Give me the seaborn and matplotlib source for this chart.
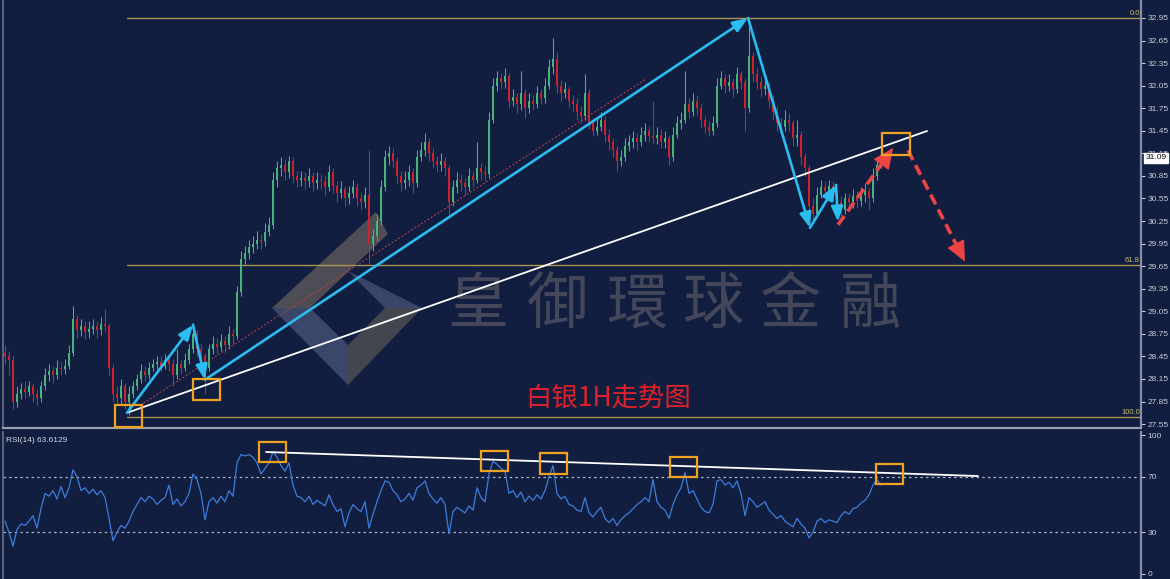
import numpy as np
import pandas as pd
import matplotlib
matplotlib.use("Agg")
import matplotlib.pyplot as plt
import seaborn as sns
from matplotlib.patches import Rectangle, Polygon

# ---------------- data ----------------
close = [28.45, 28.40, 27.85, 27.95, 28.02, 27.98, 28.05, 27.95, 27.90, 28.05,
         28.20, 28.25, 28.20, 28.30, 28.28, 28.32, 28.50, 28.95, 28.80, 28.85,
         28.78, 28.82, 28.85, 28.80, 28.88, 28.85, 28.30, 27.95, 27.90, 28.05,
         27.85, 27.95, 28.05, 28.15, 28.25, 28.20, 28.30, 28.35, 28.38, 28.32,
         28.40, 28.35, 28.20, 28.35, 28.30, 28.40, 28.55, 28.75, 28.55, 28.45,
         28.30, 28.55, 28.62, 28.58, 28.65, 28.60, 28.75, 28.72, 29.30, 29.75,
         29.82, 29.90, 29.95, 30.00, 29.98, 30.10, 30.20, 30.80, 30.95, 31.00,
         30.90, 31.05, 30.85, 30.80, 30.82, 30.78, 30.85, 30.75, 30.80, 30.78,
         30.70, 30.90, 30.72, 30.62, 30.68, 30.55, 30.62, 30.70, 30.55, 30.50,
         30.60, 29.95, 30.05, 30.25, 30.70, 31.10, 31.15, 31.05, 30.85, 30.75,
         30.80, 30.90, 30.75, 31.10, 31.20, 31.30, 31.15, 31.05, 31.00, 31.05,
         30.95, 30.50, 30.70, 30.80, 30.75, 30.70, 30.85, 30.80, 30.95, 30.90,
         30.88, 31.60, 32.05, 32.15, 32.10, 32.18, 31.85, 31.90, 31.80, 31.95,
         31.75, 31.85, 31.80, 31.95, 31.88, 32.05, 32.30, 32.40, 32.05, 31.95,
         32.00, 31.85, 31.80, 31.70, 31.65, 31.95, 31.55, 31.45, 31.50, 31.60,
         31.40, 31.30, 31.20, 31.05, 31.10, 31.25, 31.30, 31.35, 31.30, 31.40,
         31.45, 31.38, 31.35, 31.40, 31.30, 31.35, 31.10, 31.40, 31.55, 31.60,
         31.80, 31.70, 31.85, 31.75, 31.60, 31.50, 31.45, 31.55, 32.05, 32.15,
         32.05, 32.10, 32.00, 32.20, 32.10, 31.75, 32.45, 32.20, 32.10, 32.00,
         32.05, 31.85, 31.70, 31.55, 31.50, 31.60, 31.55, 31.35, 31.40, 31.10,
         30.95, 30.45, 30.35, 30.60, 30.70, 30.65, 30.72, 30.60, 30.50, 30.40,
         30.55, 30.50, 30.58, 30.52, 30.60, 30.65, 30.55, 30.85, 31.00, 31.09]

high = [28.60, 28.52, 28.45, 28.05, 28.10, 28.12, 28.12, 28.10, 28.02, 28.12,
        28.30, 28.35, 28.32, 28.40, 28.38, 28.42, 28.60, 29.12, 29.00, 28.95,
        28.92, 28.92, 28.95, 28.92, 28.98, 29.08, 28.90, 28.35, 28.05, 28.15,
        28.10, 28.05, 28.12, 28.22, 28.35, 28.32, 28.38, 28.42, 28.45, 28.45,
        28.48, 28.45, 28.42, 28.55, 28.40, 28.50, 28.62, 28.90, 28.80, 28.62,
        28.50, 28.62, 28.72, 28.70, 28.75, 28.72, 28.85, 28.82, 29.38, 29.85,
        29.92, 30.00, 30.05, 30.12, 30.08, 30.22, 30.30, 30.90, 31.05, 31.10,
        31.08, 31.12, 31.10, 30.92, 30.92, 30.90, 30.95, 30.90, 30.90, 30.88,
        30.85, 31.00, 30.95, 30.78, 30.78, 30.72, 30.72, 30.80, 30.75, 30.62,
        30.70, 31.20, 30.15, 30.35, 30.80, 31.20, 31.25, 31.22, 31.10, 30.92,
        30.92, 31.00, 30.95, 31.20, 31.30, 31.42, 31.35, 31.22, 31.12, 31.15,
        31.10, 31.00, 30.80, 30.90, 30.88, 30.82, 30.95, 30.92, 31.30, 31.02,
        30.98, 31.70, 32.15, 32.25, 32.22, 32.28, 32.22, 32.00, 31.95, 32.25,
        32.00, 31.95, 31.92, 32.05, 32.00, 32.15, 32.40, 32.68, 32.50, 32.12,
        32.10, 32.05, 31.92, 31.88, 31.78, 32.20, 32.00, 31.62, 31.62, 31.70,
        31.65, 31.48, 31.35, 31.25, 31.20, 31.35, 31.40, 31.45, 31.42, 31.50,
        31.55, 31.52, 31.85, 31.50, 31.48, 31.45, 31.40, 31.50, 31.65, 31.70,
        32.25, 31.88, 31.95, 31.92, 31.80, 31.65, 31.58, 31.65, 32.15, 32.25,
        32.20, 32.20, 32.15, 32.30, 32.25, 32.15, 32.95, 32.50, 32.28, 32.18,
        32.15, 32.10, 31.92, 31.78, 31.62, 31.72, 31.68, 31.60, 31.60, 31.45,
        31.15, 31.00, 30.55, 30.70, 30.80, 30.78, 30.80, 30.78, 30.65, 30.58,
        30.62, 30.62, 30.68, 30.65, 30.70, 30.75, 30.70, 30.95, 31.10, 31.18]

low = [28.35, 28.20, 27.75, 27.78, 27.88, 27.90, 27.92, 27.85, 27.80, 27.85,
       28.00, 28.12, 28.10, 28.15, 28.20, 28.22, 28.28, 28.45, 28.70, 28.72,
       28.68, 28.70, 28.75, 28.70, 28.74, 28.78, 28.20, 27.85, 27.80, 27.82,
       27.75, 27.67, 27.90, 28.00, 28.10, 28.12, 28.15, 28.25, 28.28, 28.25,
       28.28, 28.25, 28.05, 28.15, 28.22, 28.25, 28.35, 28.50, 28.45, 28.35,
       27.95, 28.25, 28.48, 28.50, 28.52, 28.50, 28.55, 28.62, 28.68, 29.25,
       29.68, 29.75, 29.82, 29.88, 29.88, 29.92, 30.05, 30.15, 30.70, 30.85,
       30.80, 30.82, 30.75, 30.70, 30.72, 30.68, 30.70, 30.65, 30.68, 30.68,
       30.60, 30.65, 30.62, 30.50, 30.55, 30.45, 30.48, 30.55, 30.45, 30.40,
       30.42, 29.68, 29.85, 29.98, 30.20, 30.65, 31.00, 30.95, 30.75, 30.65,
       30.68, 30.72, 30.62, 30.70, 31.05, 31.12, 31.05, 30.95, 30.90, 30.92,
       30.85, 30.35, 30.45, 30.62, 30.65, 30.60, 30.65, 30.70, 30.75, 30.80,
       30.78, 30.82, 31.55, 31.98, 32.00, 32.02, 31.75, 31.78, 31.68, 31.72,
       31.62, 31.68, 31.72, 31.75, 31.80, 31.82, 32.00, 32.20, 31.95, 31.85,
       31.88, 31.75, 31.70, 31.60, 31.55, 31.60, 31.48, 31.38, 31.40, 31.45,
       31.30, 31.20, 31.10, 30.92, 30.98, 31.05, 31.18, 31.22, 31.20, 31.25,
       31.32, 31.30, 31.28, 31.28, 31.22, 31.22, 31.00, 31.05, 31.35, 31.48,
       31.55, 31.62, 31.65, 31.65, 31.50, 31.42, 31.38, 31.40, 31.50, 32.00,
       31.95, 31.98, 31.90, 31.95, 32.00, 31.45, 31.70, 32.10, 32.00, 31.90,
       31.92, 31.75, 31.60, 31.45, 31.40, 31.45, 31.45, 31.25, 31.25, 31.00,
       30.85, 30.22, 30.25, 30.30, 30.55, 30.55, 30.58, 30.50, 30.30, 30.32,
       30.35, 30.40, 30.42, 30.42, 30.45, 30.50, 30.40, 30.50, 30.80, 30.95]

first_open = 28.50

rsi = [38, 30, 20, 32, 36, 35, 38, 42, 33, 47,
       58, 56, 60, 54, 63, 55, 62, 75, 70, 60,
       62, 58, 61, 57, 60, 55, 40, 24, 30, 35,
       33, 38, 45, 50, 55, 52, 56, 54, 50, 53,
       55, 64, 50, 54, 49, 52, 58, 72, 68, 58,
       39, 52, 55, 51, 56, 52, 60, 56, 80, 86,
       85, 86, 84, 80, 72, 76, 80, 88, 84, 78,
       74, 80, 64, 56, 55, 52, 56, 50, 53, 51,
       49, 57, 50, 45, 47, 34, 44, 50, 47, 45,
       52, 33, 43, 52, 60, 67, 66, 60, 57, 52,
       54, 58, 53, 62, 64, 67, 58, 54, 51, 55,
       50, 29, 45, 48, 46, 44, 49, 46, 62, 55,
       52, 72, 81, 79, 76, 74, 58, 60, 55, 59,
       52, 56, 53, 57, 54, 60, 70, 78, 58, 54,
       56, 50, 49, 46, 45, 55, 44, 41, 45, 48,
       40, 37, 40, 35, 39, 42, 44, 47, 50, 52,
       55, 52, 68, 52, 48, 46, 40, 50, 57, 62,
       73, 58, 60, 54, 48, 45, 44, 50, 67, 68,
       64, 66, 62, 67, 58, 42, 55, 52, 48, 50,
       52, 46, 43, 40, 42, 38, 36, 34, 40, 36,
       33, 26, 30, 38, 40, 37, 39, 38, 37, 42,
       45, 43, 47, 48, 51, 53, 57, 64, 68, 64]

price_ticks = [32.95, 32.65, 32.35, 32.05, 31.75, 31.45, 31.15, 30.85, 30.55, 30.25,
               29.95, 29.65, 29.35, 29.05, 28.75, 28.45, 28.15, 27.85, 27.55]
rsi_ticks = [100, 70, 30, 0]
rsi_levels = [70, 30]
fib_levels = [32.95, 29.67, 27.645]
fib_labels = ["0.0", "61.8", "100.0"]
fib_start = 30.5
last_price = 31.09
rsi_label = "RSI(14) 63.6129"
title = "白银1H走势图"
watermark = "皇御環球金融"

# annotation drawings (bar index, price)
blue_idx = [30.5, 47, 50, 185.75, 201.25, 207.75, 208.25]
blue_px = [27.70, 28.87, 28.14, 32.95, 30.16, 30.73, 30.24]
red_arrows = [((208.25, 30.20), (222.0, 31.22)), ((225.75, 31.19), (240.0, 29.71))]
white_trend = ((30.5, 27.70), (230.5, 31.447))
red_dotted = ((33.75, 27.80), (160.0, 32.13))
main_boxes = [((27.5, 34.25), (27.51, 27.80)), ((47, 53.75), (27.87, 28.15)),
              ((219.25, 226.25), (31.13, 31.42))]
rsi_trend = ((65.25, 87.8), (243.25, 70.5))
rsi_boxes = [((63.5, 70.25), (80.6, 95)), ((119, 125.75), (74.1, 88.5)),
             ((133.75, 140.5), (72, 87)), ((166.25, 173), (69.8, 84.2)),
             ((217.75, 224.5), (64.7, 79.1))]

# ---------------- style ----------------
BG = "#111e40"
GREEN = "#48b27b"
RED = "#cc222e"
BLUE = "#2bbcf0"
ORANGE = "#f0a21e"
FIB = "#a8984f"
FIBTXT = "#cdbd68"
AXC = "#8790a8"
TXT = "#c8ccd8"

sns.set_style("dark", {"axes.facecolor": BG, "figure.facecolor": BG})
plt.rcParams["font.family"] = ["Liberation Sans", "DejaVu Sans", "Noto Sans CJK SC"]

W, H = 1170, 579
fig = plt.figure(figsize=(W / 100, H / 100), dpi=100, facecolor=BG)
ax = fig.add_axes([3 / W, 1 - 428 / H, 1138 / W, 428 / H])
axr = fig.add_axes([3 / W, 0, 1138 / W, (H - 432) / H])

XLIM = (-0.5, 284)
ax.set_xlim(*XLIM)
ax.set_ylim(27.498, 33.189)
axr.set_xlim(*XLIM)
axr.set_ylim(-3.6, 102.2)

for a in (ax, axr):
    a.set_facecolor(BG)
    a.grid(False)
    a.set_xticks([])
    a.yaxis.tick_right()
    a.tick_params(axis="y", colors=TXT, labelsize=6, length=3, width=0.8, pad=1.5,
                  direction="out", labelcolor=TXT)
    a.spines["top"].set_visible(False)
    a.spines["left"].set_color("#6a7288")
    a.spines["left"].set_linewidth(1.2)
    a.spines["right"].set_color(AXC)
    a.spines["right"].set_linewidth(1.6)
ax.spines["bottom"].set_color("#9aa0b2")
ax.spines["bottom"].set_linewidth(1.6)
axr.spines["bottom"].set_visible(False)

ax.set_yticks(price_ticks)
ax.set_yticklabels([f"{t:.2f}" for t in price_ticks])
axr.set_yticks(rsi_ticks)
axr.set_yticklabels([str(t) for t in rsi_ticks])
ax.set_ylabel("")
axr.set_ylabel("")

# ---------------- helper for decorations placed by pixel ----------------
def pxd(x, y):
    return ((x - 5) / 4.0, 32.95 - (y - 18) / 75.2)

# watermark logo
logo_parts = [
    ([(272, 308), (376, 212), (388, 234), (310, 308)], "#4e4c54"),
    ([(272, 308), (348, 385), (348, 345), (310, 308)], "#3b476a"),
    ([(348, 385), (422, 308), (385, 308), (348, 345)], "#44464f"),
    ([(348, 271), (422, 308), (385, 308)], "#3a4668"),
]
for pts, col in logo_parts:
    ax.add_patch(Polygon([pxd(*p) for p in pts], closed=True, fc=col, ec="none",
                         zorder=0.5))
for ch, cx in zip(watermark, [478, 558, 637, 713, 790, 870]):
    x, y = pxd(cx, 306)
    ax.text(x, y, ch, fontsize=44, color="#44475a", ha="center", va="center",
            family=["Noto Sans CJK TC"], zorder=0.6)

# ---------------- candles ----------------
df = pd.DataFrame({"close": close, "high": high, "low": low})
df["open"] = [first_open] + close[:-1]
df["idx"] = np.arange(len(df))
up = df["close"] >= df["open"]
colors = np.where(up, GREEN, RED)
ax.vlines(df["idx"], df["low"], df["high"], colors=colors, lw=0.75, zorder=2)
body_bottom = np.minimum(df["open"], df["close"])
body_h = np.maximum((df["close"] - df["open"]).abs(), 0.012)
ax.bar(df["idx"], body_h, bottom=body_bottom, width=0.55, color=colors,
       edgecolor="none", zorder=2)

# fibonacci lines
for lvl, lab in zip(fib_levels, fib_labels):
    ax.plot([fib_start, XLIM[1]], [lvl, lvl], color=FIB, lw=1.0, zorder=1.5)
    ax.text(XLIM[1] - 0.3, lvl + 0.015, lab, color=FIBTXT, fontsize=5.5,
            ha="right", va="bottom", zorder=3)

# trend lines
ax.plot([white_trend[0][0], white_trend[1][0]], [white_trend[0][1], white_trend[1][1]],
        color="white", lw=1.3, zorder=4)
ax.plot([red_dotted[0][0], red_dotted[1][0]], [red_dotted[0][1], red_dotted[1][1]],
        color="#c8404a", lw=0.7, ls=(0, (2, 2)), zorder=3)

# blue zigzag arrows
for k in range(len(blue_idx) - 1):
    ax.annotate("", xy=(blue_idx[k + 1], blue_px[k + 1]), xytext=(blue_idx[k], blue_px[k]),
                arrowprops=dict(arrowstyle="-|>,head_length=0.9,head_width=0.35",
                                color=BLUE, lw=1.9, shrinkA=0, shrinkB=0,
                                mutation_scale=10), zorder=5)

# red dashed arrows
for (x0, y0), (x1, y1) in red_arrows:
    ax.plot([x0, x1 - 0.12 * (x1 - x0)], [y0, y1 - 0.12 * (y1 - y0)], color="#ec4444",
            lw=2.6, ls=(0, (3, 1.6)), zorder=5)
    ax.annotate("", xy=(x1, y1), xytext=(x1 - 0.02 * (x1 - x0), y1 - 0.02 * (y1 - y0)),
                arrowprops=dict(arrowstyle="-|>,head_length=1.3,head_width=0.6",
                                color="#ec4444", lw=1, shrinkA=0, shrinkB=0,
                                mutation_scale=10), zorder=5)

# orange boxes
for (x0, x1), (y0, y1) in main_boxes:
    ax.add_patch(Rectangle((x0, y0), x1 - x0, y1 - y0, fill=False, ec=ORANGE, lw=1.6,
                           zorder=6, clip_on=False))

# title
tx, ty = pxd(608, 398)
ax.text(tx, ty, title, color="#e0202a", fontsize=19, ha="center", va="center",
        family=["Noto Sans CJK SC"], zorder=6)

# last price label
ax.text(1.004, last_price, f"{last_price:.2f}", transform=ax.get_yaxis_transform(),
        fontsize=6, color="black", ha="left", va="center", zorder=10,
        bbox=dict(boxstyle="square,pad=0.18", fc="white", ec="white"), clip_on=False)

# ---------------- RSI panel ----------------
rdf = pd.DataFrame({"idx": np.arange(len(rsi)), "rsi": rsi})
sns.lineplot(data=rdf, x="idx", y="rsi", ax=axr, color="#3d7ddb", lw=0.9, zorder=3)
axr.set_xlabel("")
axr.set_ylabel("")
axr.set_xticks([])
for lv in rsi_levels:
    axr.axhline(lv, color="#aeb4c6", lw=0.9, ls=(0, (2, 2.5)), zorder=2)
axr.plot([rsi_trend[0][0], rsi_trend[1][0]], [rsi_trend[0][1], rsi_trend[1][1]],
         color="white", lw=1.3, zorder=4)
for (x0, x1), (y0, y1) in rsi_boxes:
    axr.add_patch(Rectangle((x0, y0), x1 - x0, y1 - y0, fill=False, ec=ORANGE, lw=1.6,
                            zorder=6))
axr.text(0.003, 0.965, rsi_label, transform=axr.transAxes, color="#d4d8e2", fontsize=6,
         ha="left", va="top")

fig.savefig("out.png", dpi=100, facecolor=BG)
